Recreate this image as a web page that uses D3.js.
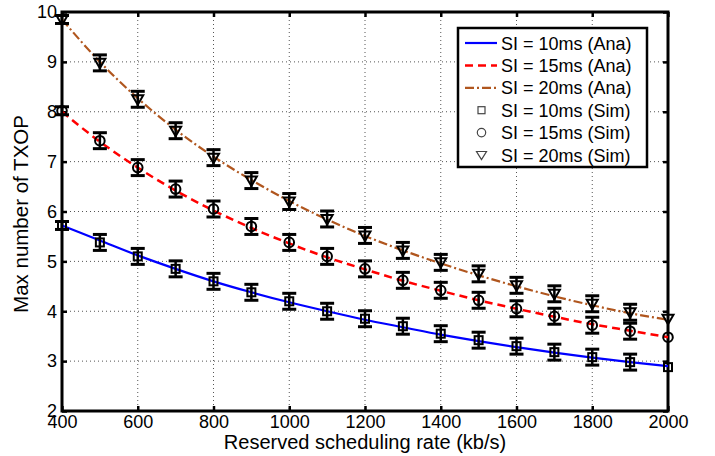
<!DOCTYPE html>
<html><head><meta charset="utf-8">
<script src="https://cdn.jsdelivr.net/npm/d3@7"></script>
<style>body{margin:0;background:#fff}svg{display:block}text{font-family:"Liberation Sans",Arial,sans-serif}</style>
</head><body><svg id="c" width="715" height="456"></svg>
<script>
const rates = [400,500,600,700,800,900,1000,1100,1200,1300,1400,1500,1600,1700,1800,1900,2000];
const ana10 = [5.72,5.42,5.12,4.85,4.60,4.38,4.18,4.00,3.83,3.68,3.53,3.40,3.28,3.17,3.07,2.98,2.90];
const ana15 = [8.00,7.40,6.88,6.42,6.02,5.67,5.36,5.08,4.84,4.61,4.41,4.22,4.05,3.89,3.74,3.61,3.48];
const ana20 = [9.85,9.00,8.27,7.64,7.10,6.63,6.21,5.84,5.51,5.22,4.96,4.72,4.50,4.30,4.12,3.96,3.83];
const sim10 = [5.72,5.38,5.10,4.85,4.60,4.38,4.20,4.00,3.85,3.70,3.55,3.42,3.30,3.18,3.08,2.98,2.88];
const sim15 = [8.02,7.42,6.88,6.45,6.05,5.70,5.38,5.10,4.85,4.62,4.42,4.22,4.05,3.90,3.72,3.60,3.48];
const sim20 = [9.85,8.98,8.25,7.62,7.08,6.62,6.20,5.85,5.52,5.22,4.98,4.75,4.52,4.35,4.15,3.98,3.85];
const simErr = [0.08,0.16,0.16,0.16,0.16,0.16,0.16,0.16,0.16,0.16,0.16,0.16,0.16,0.16,0.16,0.16,0];
const xTicks = [400,600,800,1000,1200,1400,1600,1800,2000];
const yTicks = [2,3,4,5,6,7,8,9,10];
const legendLabels = ["SI = 10ms (Ana)","SI = 15ms (Ana)","SI = 20ms (Ana)","SI = 10ms (Sim)","SI = 15ms (Sim)","SI = 20ms (Sim)"];

const svg = d3.select("#c");
const L=62, R=668, T=12, B=411;
const x = d3.scaleLinear().domain([400,2000]).range([L,R]);
const y = d3.scaleLinear().domain([2,10]).range([B,T]);

// grid
const g = svg.append("g");
xTicks.slice(1,-1).forEach(t=>g.append("line").attr("x1",x(t)).attr("x2",x(t)).attr("y1",T).attr("y2",B)
  .attr("stroke","#555").attr("stroke-width",1).attr("stroke-dasharray","1,3"));
yTicks.slice(1,-1).forEach(t=>g.append("line").attr("x1",L).attr("x2",R).attr("y1",y(t)).attr("y2",y(t))
  .attr("stroke","#555").attr("stroke-width",1).attr("stroke-dasharray","1,3"));

// axes
const xa = svg.append("g").attr("transform",`translate(0,${B})`).call(d3.axisBottom(x).tickValues(xTicks).tickSize(-5).tickPadding(6).tickFormat(d3.format("d")));
const xt = svg.append("g").attr("transform",`translate(0,${T})`).call(d3.axisTop(x).tickValues(xTicks).tickSize(-5).tickFormat(""));
const ya = svg.append("g").attr("transform",`translate(${L},0)`).call(d3.axisLeft(y).tickValues(yTicks).tickSize(-5).tickPadding(5));
const yr = svg.append("g").attr("transform",`translate(${R},0)`).call(d3.axisRight(y).tickValues(yTicks).tickSize(-5).tickFormat(""));
[xa,xt,ya,yr].forEach(a=>{a.select(".domain").remove();a.selectAll(".tick line").attr("stroke","#000").attr("stroke-width",2.5);
  a.selectAll("text").attr("font-size",18).attr("fill","#000").attr("font-family","Liberation Sans, Arial, sans-serif");});
xa.selectAll("text").attr("dy",null).attr("y",17);
svg.append("rect").attr("x",L).attr("y",T).attr("width",R-L).attr("height",B-T).attr("fill","none").attr("stroke","#000").attr("stroke-width",3);

// lines
const styles = [{c:"#0000ff",d:null,w:2.2},{c:"#ff0000",d:"8,5",w:2.5},{c:"#b0561e",d:"9,3,2,3",w:2.2}];
const line = d3.line().x((d,i)=>x(rates[i])).y(d=>y(d)).curve(d3.curveMonotoneX);
[ana10,ana15,ana20].forEach((a,k)=>{
  const p = svg.append("path").datum(a).attr("d",line).attr("fill","none").attr("stroke",styles[k].c).attr("stroke-width",styles[k].w);
  if(styles[k].d) p.attr("stroke-dasharray",styles[k].d);
});

// sim markers with error bars
function marker(sel,type,cx,cy){
  if(type===0) sel.append("rect").attr("x",cx-4).attr("y",cy-4).attr("width",8).attr("height",8);
  else if(type===1) sel.append("circle").attr("cx",cx).attr("cy",cy).attr("r",4.8);
  else sel.append("path").attr("d",`M${cx-5.5},${cy-4}L${cx+5.5},${cy-4}L${cx},${cy+5.5}Z`);
}
[sim10,sim15,sim20].forEach((s,k)=>{
  const gg = svg.append("g").attr("fill","none").attr("stroke","#000").attr("stroke-width",2);
  s.forEach((v,i)=>{
    const cx=x(rates[i]), cy=y(v), e=simErr[i];
    if(e>0){
      gg.append("line").attr("x1",cx).attr("x2",cx).attr("y1",y(v+e)).attr("y2",y(v-e)).attr("stroke-width",2.5);
      [v+e,v-e].forEach(t=>gg.append("line").attr("x1",cx-7).attr("x2",cx+7).attr("y1",y(t)).attr("y2",y(t)).attr("stroke-width",3));
    }
    marker(gg,k,cx,cy);
  });
});

// legend
const lg = svg.append("g");
lg.append("rect").attr("x",458).attr("y",28).attr("width",189).attr("height",139).attr("fill","#fff").attr("stroke","#000").attr("stroke-width",2.5);
legendLabels.forEach((t,i)=>{
  const yy = 43 + i*22.4;
  if(i<3){
    const l = lg.append("line").attr("x1",465).attr("x2",497).attr("y1",yy).attr("y2",yy).attr("stroke",styles[i].c).attr("stroke-width",styles[i].w);
    if(styles[i].d) l.attr("stroke-dasharray",styles[i].d);
  } else {
    const mg = lg.append("g").attr("fill","none").attr("stroke","#444").attr("stroke-width",1.2);
    if(i===3) mg.append("rect").attr("x",478).attr("y",yy-3.5).attr("width",7).attr("height",7);
    else if(i===4) mg.append("circle").attr("cx",481.5).attr("cy",yy).attr("r",4.2);
    else mg.append("path").attr("d",`M${476.5},${yy-3.5}L${486.5},${yy-3.5}L${481.5},${yy+4.5}Z`);
  }
  lg.append("text").attr("x",501).attr("y",yy+6.5).attr("font-size",18).attr("fill","#000").text(t);
});

// axis titles
svg.append("text").attr("x",(L+R)/2).attr("y",449).attr("text-anchor","middle").attr("font-size",20).text("Reserved scheduling rate (kb/s)");
svg.append("text").attr("transform",`translate(28,214) rotate(-90)`).attr("text-anchor","middle").attr("font-size",20.5).text("Max number of TXOP");
</script></body></html>
